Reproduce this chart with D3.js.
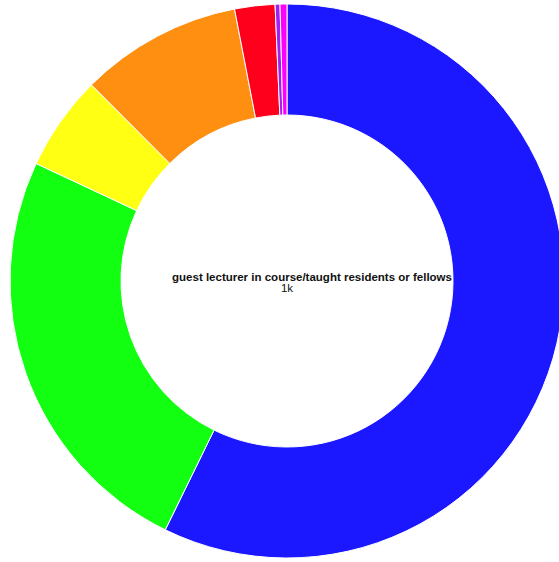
<!DOCTYPE html>
<html>
<head>
<meta charset="utf-8">
<script src="https://d3js.org/d3.v7.min.js"></script>
<style>
  html, body { margin: 0; padding: 0; background: #fff; }
  svg { display: block; }
</style>
</head>
<body>
<svg id="chart" width="559" height="562"></svg>
<script>
const categories = [
  "guest lecturer in course/taught residents or fellows",
  "presented at conference",
  "published article",
  "served on committee",
  "mentored students",
  "received grant",
  "received award"
];
const values = [1000, 432, 97, 165, 41, 5, 7];
const colors = ["#1b17ff", "#12ff12", "#ffff14", "#ff8f10", "#ff001c", "#a020f0", "#ff00ff"];
const selectedLabel = categories[0];
const selectedValue = "1k";

const svg = d3.select("#chart");
const cx = 287, cy = 281, outerR = 277, innerR = 166;
const g = svg.append("g").attr("transform", `translate(${cx},${cy})`);

const data = categories.map((c, i) => ({ name: c, value: values[i], color: colors[i] }));
const pie = d3.pie().value(d => d.value).sort(null);
const arc = d3.arc().innerRadius(innerR).outerRadius(outerR);

g.selectAll("path")
  .data(pie(data))
  .join("path")
  .attr("d", arc)
  .attr("fill", d => d.data.color)
  .attr("stroke", "#fff")
  .attr("stroke-width", 1);

g.append("text")
  .attr("x", 25)
  .attr("y", 0)
  .attr("text-anchor", "middle")
  .attr("font-family", "Liberation Sans, Arial, sans-serif")
  .attr("font-weight", "bold")
  .attr("font-size", 11.5)
  .attr("fill", "#111")
  .text(selectedLabel);

g.append("text")
  .attr("x", 0)
  .attr("y", 11)
  .attr("text-anchor", "middle")
  .attr("font-family", "Liberation Sans, Arial, sans-serif")
  .attr("font-size", 11.5)
  .attr("fill", "#111")
  .text(selectedValue);
</script>
</body>
</html>
